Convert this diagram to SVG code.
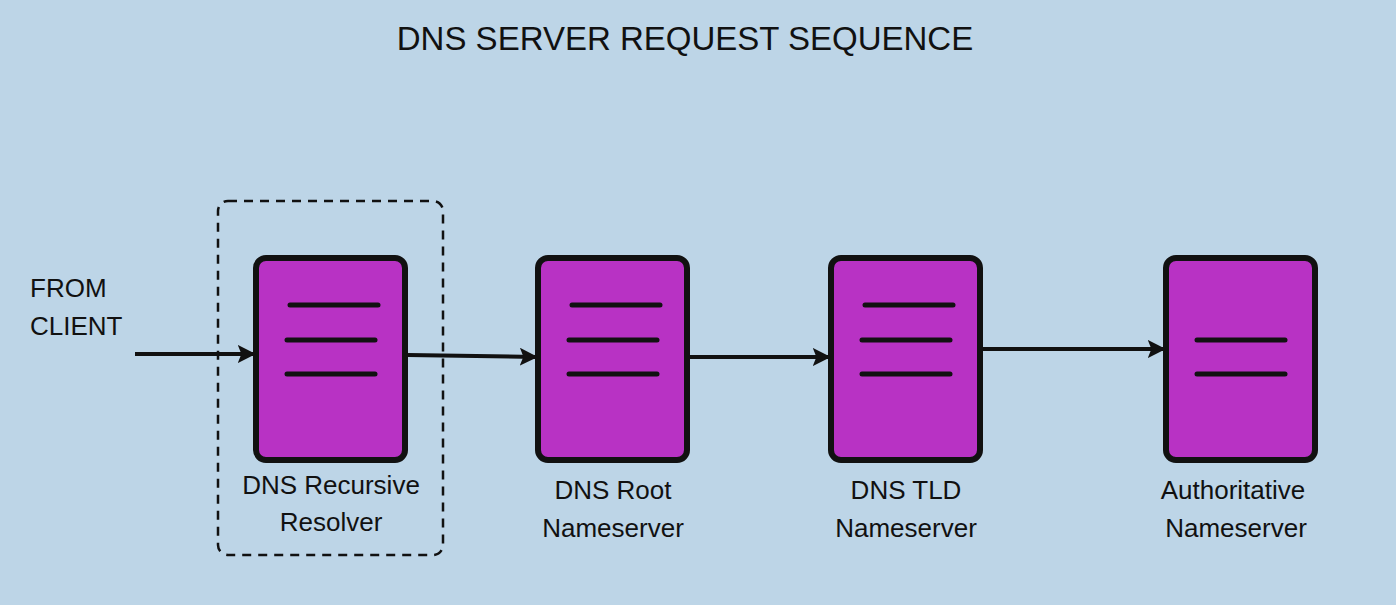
<svg xmlns="http://www.w3.org/2000/svg" width="1396" height="605" viewBox="0 0 1396 605">
<style>
.n{fill:#b832c4;stroke:#111;stroke-width:6}
.l{stroke:#111;stroke-width:5;stroke-linecap:round}
.c{stroke:#111;stroke-width:4;fill:none;marker-end:url(#a)}
text{font-family:"Liberation Sans",Arial,sans-serif;font-size:26px;fill:#111}
.m{text-anchor:middle}
</style>
<defs><marker id="a" viewBox="0 0 10 10" refX="9" refY="5" markerWidth="4.5" markerHeight="4.5" orient="auto"><path d="M0,0L10,5L0,10L2,5Z" fill="#111"/></marker></defs>
<rect width="1396" height="605" fill="#bdd5e7"/>
<text x="685" y="50" class="m" style="font-size:33px">DNS SERVER REQUEST SEQUENCE</text>
<g id="client"><text x="30" y="297">FROM</text><text x="30" y="335">CLIENT</text></g>
<g id="resolver-box"><rect x="218" y="201" width="225" height="354" rx="10" fill="none" stroke="#111" stroke-width="2.5" stroke-dasharray="9,7"/></g>
<g id="resolver"><rect class="n" x="256" y="258" width="149" height="202" rx="10"/>
<line class="l" x1="290" y1="305" x2="378" y2="305"/><line class="l" x1="287" y1="340" x2="375" y2="340"/><line class="l" x1="287" y1="374" x2="375" y2="374"/>
<text class="m" x="331" y="494">DNS Recursive</text><text class="m" x="331" y="531">Resolver</text></g>
<g id="root"><rect class="n" x="538" y="258" width="149" height="202" rx="10"/>
<line class="l" x1="572" y1="305" x2="660" y2="305"/><line class="l" x1="569" y1="340" x2="657" y2="340"/><line class="l" x1="569" y1="374" x2="657" y2="374"/>
<text class="m" x="613" y="499">DNS Root</text><text class="m" x="613" y="537">Nameserver</text></g>
<g id="tld"><rect class="n" x="831" y="258" width="149" height="202" rx="10"/>
<line class="l" x1="865" y1="305" x2="953" y2="305"/><line class="l" x1="862" y1="340" x2="950" y2="340"/><line class="l" x1="862" y1="374" x2="950" y2="374"/>
<text class="m" x="906" y="499">DNS TLD</text><text class="m" x="906" y="537">Nameserver</text></g>
<g id="auth"><rect class="n" x="1166" y="258" width="149" height="202" rx="10"/>
<line class="l" x1="1197" y1="340" x2="1285" y2="340"/><line class="l" x1="1197" y1="374" x2="1285" y2="374"/>
<text class="m" x="1233" y="499">Authoritative</text><text class="m" x="1236" y="537">Nameserver</text></g>
<g id="connectors">
<path class="c" d="M135,354L254,354"/>
<path class="c" d="M408,355L536,357"/>
<path class="c" d="M690,357L829,357"/>
<path class="c" d="M983,349L1164,349"/>
</g>
</svg>
